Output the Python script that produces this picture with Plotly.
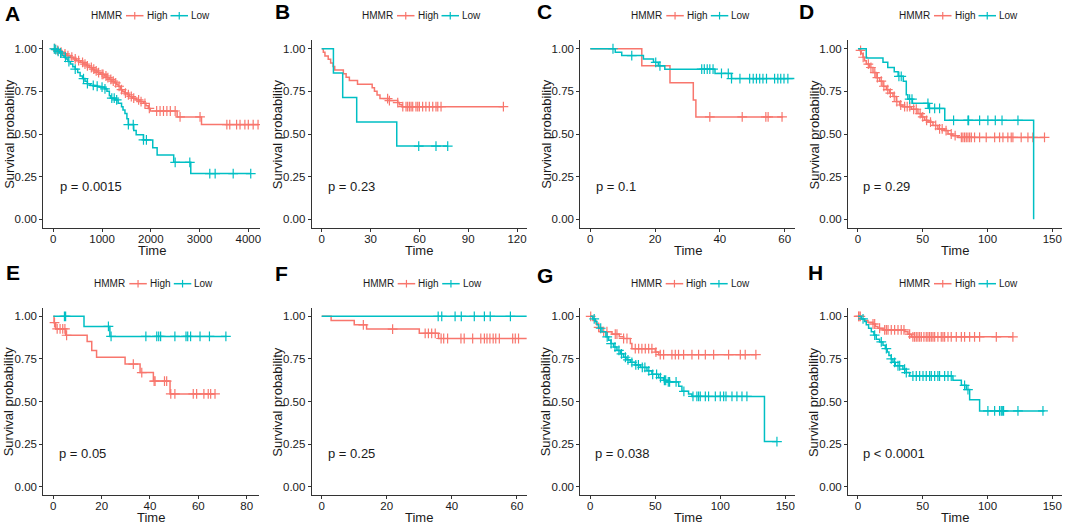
import plotly.graph_objects as go

RED = "#F8766D"
TEAL = "#00BFC4"
W, H = 1065, 526
FONT = "Liberation Sans, Arial, sans-serif"
INK = "#1a1a1a"

# ---------------- data (time, survival at events; end time; censor times) ----------------
A_high_time = [50,120,200,280,350,420,480,560,620,680,740,800,850,900,960,1050,1100,1150,1200,1260,
               1300,1330,1380,1420,1460,1520,1560,1620,1700,1780,1850,1900,1950,1990,2540,3040]
A_high_surv = [0.99,0.98,0.97,0.96,0.95,0.94,0.93,0.92,0.91,0.90,0.89,0.88,0.87,0.86,0.85,0.84,0.83,0.82,0.81,0.80,
               0.79,0.78,0.76,0.75,0.74,0.73,0.72,0.71,0.70,0.69,0.68,0.665,0.65,0.635,0.60,0.555]
A_high_end = 4200
A_high_cens = [30,90,160,240,300,380,450,520,600,650,700,780,830,880,930,1000,1020,1080,1120,1180,1230,1280,
               1350,1400,1480,1540,1600,1650,1750,1800,1880,1970,2120,2190,2260,2330,2400,2500,2600,3010,
               3560,3620,3760,3830,3930,4000,4100,4200]
A_low_time = [30,80,130,180,220,260,300,350,400,450,500,550,600,650,700,760,850,950,1050,1100,
              1150,1180,1260,1330,1400,1430,1470,1510,1540,1650,1700,1850,2040,2130,2470,2820]
A_low_surv = [0.995,0.985,0.975,0.96,0.95,0.94,0.925,0.91,0.895,0.88,0.86,0.84,0.825,0.81,0.795,0.785,0.78,0.775,0.765,0.75,
              0.725,0.71,0.70,0.68,0.66,0.64,0.62,0.59,0.555,0.52,0.495,0.465,0.42,0.377,0.334,0.268]
A_low_end = 4050
A_low_cens = [20,50,100,150,250,320,450,620,700,820,900,1000,1060,1200,1250,1300,1540,1640,1850,1910,
              2500,2800,3210,3320,3690,4050]

B_high_time = [1,2,4,5.5,7,8,13.3,15,17,22,31,32.4,34,35.8,41.6,46.7,47.7,49.4]
B_high_surv = [0.979,0.958,0.938,0.917,0.896,0.875,0.854,0.833,0.813,0.792,0.771,0.75,0.729,0.708,0.696,0.684,0.672,0.66]
B_high_end = 111.6
B_high_cens = [40.5,41.6,46.7,49.8,51.8,52.8,53.9,54.9,55.9,57.9,59,60,62,64,66.1,68.2,70.2,71.3,73.3,111.6]
B_low_time = [7.2,12.9,21.5,46.1]
B_low_surv = [0.857,0.714,0.571,0.429]
B_low_end = 77.4
B_low_cens = [59.6,70.2,77.4]

C_high_time = [15.9,24.6,31.8,32.6]
C_high_surv = [0.9,0.8,0.7,0.6]
C_high_end = 59.5
C_high_cens = [36.9,46.9,54.2,54.9,59.2]
C_low_time = [7.7,9.7,16.4,19.5,21,23,38.5,43.6]
C_low_surv = [0.98,0.96,0.94,0.92,0.90,0.88,0.855,0.825]
C_low_end = 63
C_low_cens = [7.0,12.8,20.2,21.5,34.4,35.2,36.1,36.9,37.9,40.5,42.6,43.6,46.2,49.2,50.3,51.3,52.3,53.3,
              54.4,56.9,57.9,58.8,59.8,61]

D_high_time = [1.3,2.6,3.9,5.1,6.4,9,11.6,14,16.7,19.3,21.9,24.4,27,29.6,32.2,34.7,41.2,46.3,48.9,51.5,
               54,57.9,61.7,66.9,69.5,73.3,77.2]
D_high_surv = [0.99,0.97,0.95,0.93,0.91,0.89,0.86,0.83,0.81,0.78,0.76,0.74,0.72,0.69,0.67,0.66,0.645,0.62,0.60,0.58,
               0.57,0.55,0.53,0.52,0.50,0.49,0.48]
D_high_end = 144
D_high_cens = [2,4,8,10,13,15,18,20,23,25,28,30,33,36,38,40,43,45,48,50,53,56,60,63,65,68,72,75,
               79.8,81,82.3,83.6,84.9,86.2,87.5,90,93.9,99,105.5,109.3,111.9,115.7,118.3,119.6,126,131.2,135,144]
D_low_time = [6.4,19.3,23,28,31,35,37.3,38.5,42,54.5,67,135.6]
D_low_surv = [0.946,0.92,0.89,0.865,0.838,0.81,0.73,0.705,0.68,0.65,0.58,0.0]
D_low_end = 135.6
D_low_cens = [31.6,33.4,39.9,41.7,54,55.3,59.2,63,73.8,84.9,85.4,93.9,100.3,106,111.2,123.5]

E_high_time = [0.3,1,5.1,14,15.9,17.9,29.7,35.9,41.4,48.3]
E_high_surv = [0.963,0.926,0.889,0.852,0.80,0.76,0.72,0.67,0.62,0.545]
E_high_end = 66.9
E_high_cens = [0.5,1.6,2.8,3.9,4.8,5.5,33.1,36.6,41.7,42.1,46,46.9,48.6,50.3,57.9,59.3,62.3,64.1,65.1,66.9]
E_low_time = [12.7,23.4]
E_low_surv = [0.941,0.882]
E_low_end = 71.7
E_low_cens = [4.6,5.1,22.8,23.9,38.3,42.8,43.6,44.4,50.3,54.9,55.6,56.8,60.7,64.6,71.4]

F_high_time = [2.9,10,13.8,30,35.9]
F_high_surv = [0.975,0.95,0.925,0.90,0.87]
F_high_end = 63
F_high_cens = [12.8,21.8,31.8,32.8,33.8,34.9,36.7,37.5,38.7,42.8,43.8,46.4,48.9,50,50.8,51.7,52.7,53.5,54.6,
               58.7,59.5,60.5]
F_low_time = []
F_low_surv = []
F_low_end = 63
F_low_cens = [35.8,36.9,41,42.9,46.9,50,51.8,58]

G_high_time = [2,4.4,6.4,7.7,16.7,22.3,25.6,30.8,32,50,52.6]
G_high_surv = [0.975,0.955,0.935,0.91,0.895,0.88,0.87,0.84,0.81,0.79,0.775]
G_high_end = 128
G_high_cens = [0.3,6.4,10.3,12.8,19.2,20.5,25.6,28.2,34.6,37.2,39.7,42.3,44.9,47.4,50.5,53.8,56.4,62.8,65.4,
               67.9,71.8,78.2,83.3,88.5,94.9,106.4,115.4,119.2,127.4]
G_low_time = [2,3.8,5.1,6.4,9,12,14.1,15.9,17.9,20.5,23.1,25.6,28.2,30.8,34.6,38.5,43.6,47.4,52.6,56.4,
              59,68,70.5,75.6,78.2,134]
G_low_surv = [0.985,0.97,0.95,0.93,0.91,0.88,0.86,0.84,0.82,0.80,0.78,0.76,0.745,0.73,0.715,0.70,0.68,0.66,0.64,0.625,
              0.615,0.59,0.56,0.545,0.53,0.265]
G_low_end = 143.6
G_low_cens = [3,8,13,16,19,22,24,27,29,32,35,37,40,42,45,48,51,54,57,58,60,61,66,72,79,82,83.3,84.6,88.5,91,
              96.2,100,102.6,104.4,109,112.8,116.7,120.5,143.6]

H_high_time = [2.6,5.1,7.7,11.6,13.4,15.4,19.3,36,38.6,41.2]
H_high_surv = [0.985,0.975,0.965,0.955,0.94,0.93,0.92,0.91,0.895,0.88]
H_high_end = 119.6
H_high_cens = [0.5,0.8,1.8,11.6,12.9,16.7,20.6,21.9,23.2,25.7,28.3,30.9,33.4,35.5,39.9,42.4,43.7,45,46.3,47.6,
               48.9,50.9,52.7,54,55.3,56.6,57.9,59.2,61.7,64.3,65.6,66.9,69.5,72,75.9,79.8,82.3,86.2,90,93.9,
               106.8,119.6]
H_low_time = [2.6,5.1,6.4,8.2,10.3,12.3,14.1,16.7,19.3,21.1,22.6,23.9,25.7,27,28.8,34.7,37.3,39.9,73.3,79.8,
              83.6,86.2,93.9]
H_low_surv = [0.985,0.97,0.95,0.93,0.91,0.89,0.865,0.85,0.83,0.81,0.79,0.77,0.75,0.73,0.71,0.69,0.67,0.65,0.625,0.595,
              0.57,0.51,0.445]
H_low_end = 144
H_low_cens = [3.9,12.9,18,21.9,25.7,28.3,30.9,32.2,36,37.3,42.4,45,47.6,50.2,52.7,55.3,56.6,59.2,61.7,63,
              66.9,69.5,72,82.3,84.9,100.3,105.5,109.3,110.6,111.4,112.4,123.5,142.8]

p_values = ["p = 0.0015", "p = 0.23", "p = 0.1", "p = 0.29", "p = 0.05", "p = 0.25", "p = 0.038", "p < 0.0001"]
panel_letters = ["A", "B", "C", "D", "E", "F", "G", "H"]
legend_title = "HMMR"
group_names = ["High", "Low"]
x_ticks = [[0, 1000, 2000, 3000, 4000], [0, 30, 60, 90, 120], [0, 20, 40, 60], [0, 50, 100, 150],
           [0, 20, 40, 60, 80], [0, 20, 40, 60], [0, 50, 100, 150], [0, 50, 100, 150]]
y_ticks = [0, 0.25, 0.5, 0.75, 1.0]
y_ticktext = ["0.00", "0.25", "0.50", "0.75", "1.00"]

curves = [
    ((A_high_time, A_high_surv, A_high_end, A_high_cens), (A_low_time, A_low_surv, A_low_end, A_low_cens)),
    ((B_high_time, B_high_surv, B_high_end, B_high_cens), (B_low_time, B_low_surv, B_low_end, B_low_cens)),
    ((C_high_time, C_high_surv, C_high_end, C_high_cens), (C_low_time, C_low_surv, C_low_end, C_low_cens)),
    ((D_high_time, D_high_surv, D_high_end, D_high_cens), (D_low_time, D_low_surv, D_low_end, D_low_cens)),
    ((E_high_time, E_high_surv, E_high_end, E_high_cens), (E_low_time, E_low_surv, E_low_end, E_low_cens)),
    ((F_high_time, F_high_surv, F_high_end, F_high_cens), (F_low_time, F_low_surv, F_low_end, F_low_cens)),
    ((G_high_time, G_high_surv, G_high_end, G_high_cens), (G_low_time, G_low_surv, G_low_end, G_low_cens)),
    ((H_high_time, H_high_surv, H_high_end, H_high_cens), (H_low_time, H_low_surv, H_low_end, H_low_cens)),
]

# ---------------- layout geometry (pixels in the 1065x526 canvas) ----------------
dom_px = [(43.3, 260), (311.7, 527), (580.3, 795), (848, 1062),
          (43.3, 259), (311.7, 527), (580.3, 795), (848, 1062)]
x_ranges = [(-205, 4240), (-6.14, 126.1), (-3.09, 63.2), (-7.7, 157.5),
            (-4.14, 85.1), (-3.07, 63.1), (-7.7, 157.5), (-7.7, 157.5)]
row_px = [(40.2, 227.8), (307.8, 495.3)]
pval_x = [100, 2.6, 1.2, 2.5, 1.7, 1.3, 2.1, 2.5]
letter_px = [(12, 13), (282, 12), (544, 12), (806, 12), (12.5, 272), (281, 273), (545, 275), (815.5, 272)]
legend_px = [(90, 15.7), (361, 15.7), (630.3, 15.7), (898, 15.7),
             (93.3, 283.7), (361.7, 283.7), (629.7, 283.7), (898, 283.7)]


def surv_at(times, survs, t):
    s = 1.0
    for ti, si in zip(times, survs):
        if ti <= t:
            s = si
    return s


def px(xp, yp):
    return xp / W, 1 - yp / H


fig = go.Figure()
annotations = []
shapes = []
layout = dict(width=W, height=H, margin=dict(l=0, r=0, t=0, b=0),
              plot_bgcolor="white", paper_bgcolor="white",
              font=dict(family=FONT, color=INK), showlegend=False)

for i in range(8):
    n = i + 1
    xa = "x" if n == 1 else f"x{n}"
    ya = "y" if n == 1 else f"y{n}"
    row = 0 if i < 4 else 1
    l_px, r_px = dom_px[i]
    top_px, bot_px = row_px[row]

    for (times, survs, end, cens), col, name in zip(curves[i], [RED, TEAL], group_names):
        xs = [0] + list(times) + [end]
        ys = [1.0] + list(survs) + [survs[-1] if survs else 1.0]
        fig.add_trace(go.Scatter(x=xs, y=ys, mode="lines", name=name,
                                 line=dict(color=col, width=1.5, shape="hv"),
                                 xaxis=xa, yaxis=ya, hoverinfo="skip"))
        fig.add_trace(go.Scatter(x=cens, y=[surv_at(times, survs, c) for c in cens], mode="markers",
                                 name=name,
                                 marker=dict(symbol="cross-thin", size=7, line=dict(width=1.2, color=col)),
                                 xaxis=xa, yaxis=ya, hoverinfo="skip"))

    axis_common = dict(showline=True, linecolor="#333333", linewidth=1, ticks="outside", ticklen=3,
                       tickcolor="#333333", tickwidth=1, showgrid=False, zeroline=False,
                       tickfont=dict(size=11.5, color=INK, family=FONT), fixedrange=True)
    layout["xaxis" if n == 1 else f"xaxis{n}"] = dict(
        axis_common, domain=[l_px / W, r_px / W], range=list(x_ranges[i]), tickvals=x_ticks[i],
        anchor=ya, ticklabelstandoff=-3)
    layout["yaxis" if n == 1 else f"yaxis{n}"] = dict(
        axis_common, domain=[1 - bot_px / H, 1 - top_px / H], range=[-0.05, 1.05], tickvals=y_ticks,
        ticktext=y_ticktext, anchor=xa)

    # legend (drawn as text + key glyphs)
    sx, sy = legend_px[i]
    annotations.append(dict(text=legend_title, xref="paper", yref="paper", x=px(sx - 1, sy)[0],
                            y=px(sx, sy)[1], showarrow=False, xanchor="left", yanchor="middle",
                            font=dict(size=10, family=FONT, color=INK)))
    for k, (col, name) in enumerate(zip([RED, TEAL], group_names)):
        k0 = sx + 36 + 44.5 * k
        k1 = k0 + 17.5
        kc = (k0 + k1) / 2
        shapes.append(dict(type="line", xref="paper", yref="paper", x0=px(k0, sy)[0], x1=px(k1, sy)[0],
                           y0=px(k0, sy)[1], y1=px(k0, sy)[1], line=dict(color=col, width=1.5)))
        shapes.append(dict(type="line", xref="paper", yref="paper", x0=px(kc, sy)[0], x1=px(kc, sy)[0],
                           y0=px(kc, sy - 3.8)[1], y1=px(kc, sy + 3.8)[1], line=dict(color=col, width=1.2)))
        annotations.append(dict(text=name, xref="paper", yref="paper", x=px(k1 + 1, sy)[0],
                                y=px(k1, sy)[1], showarrow=False, xanchor="left", yanchor="middle",
                                font=dict(size=10, family=FONT, color=INK)))

    # p-value
    annotations.append(dict(text=p_values[i], xref=xa, yref=ya, x=pval_x[i], y=0.195, showarrow=False,
                            xanchor="left", yanchor="middle", font=dict(size=13, family=FONT, color=INK)))
    # panel letter
    cx, cy = letter_px[i]
    annotations.append(dict(text=f"<b>{panel_letters[i]}</b>", xref="paper", yref="paper", x=cx / W,
                            y=1 - cy / H, showarrow=False, xanchor="center", yanchor="middle",
                            font=dict(size=21, family=FONT, color="black")))
    # axis titles
    t_y = min(bot_px + 23, 517.6)
    annotations.append(dict(text="Time", xref="paper", yref="paper", x=(l_px + r_px) / 2 / W,
                            y=1 - t_y / H, showarrow=False, xanchor="center", yanchor="middle",
                            borderpad=0, font=dict(size=13, family=FONT, color=INK)))
    annotations.append(dict(text="Survival probability", xref="paper", yref="paper", x=(l_px - 34.5) / W,
                            y=1 - (top_px + bot_px) / 2 / H, showarrow=False, textangle=-90,
                            xanchor="center", yanchor="middle", font=dict(size=13, family=FONT, color=INK)))

layout["annotations"] = annotations
layout["shapes"] = shapes
fig.update_layout(**layout)
fig.write_html("out.html", config={"displayModeBar": False},
               post_script="document.body.style.margin='0px';document.body.style.overflow='hidden';")
